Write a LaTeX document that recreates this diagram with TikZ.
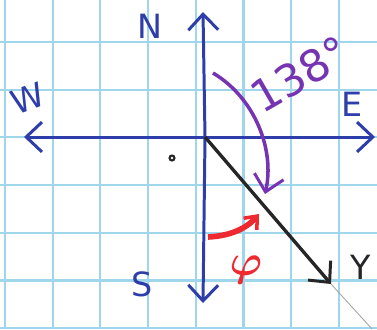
\documentclass[tikz,border=0pt]{standalone}
\usepackage{amsmath}
\usepackage{bm}
\usepackage{fontspec}
\setmainfont{DejaVu Sans}
\usetikzlibrary{
    arrows.meta,
    positioning
}
\definecolor{GridBlue}{RGB}{160,214,236}
\definecolor{AxisBlue}{RGB}{45,62,170}
\definecolor{ArcPurple}{RGB}{118,52,178}
\definecolor{PenRed}{RGB}{238,42,48}
\definecolor{PenBlack}{RGB}{38,38,40}
\newcommand{\handsize}{\fontsize{19}{22}\selectfont}

\begin{document}
\begin{tikzpicture}[
    x=0.02cm,
    y=-0.02cm,
    >={Straight Barb[length=9pt,width=17pt,line width=1.7pt]},
    gridline/.style={GridBlue, line width=1.2pt},
    axis/.style={->, AxisBlue, line width=1.7pt},
    compass/.style={AxisBlue, font=\handsize}
]

\useasboundingbox (0,0) rectangle (377,329);
\fill[white] (0,0) rectangle (377,329);

% graph paper
\foreach \gx in {5,52.7,100.4,148.1,195.8,243.5,291.2,338.9}
    \draw[gridline] (\gx,0) -- (\gx,329);
\foreach \gy in {42,89.7,137.4,185.1,232.8,280.5,328.2}
    \draw[gridline] (0,\gy) -- (377,\gy);

\coordinate (O) at (205,137);
\coordinate (Ntip) at (203,12);
\coordinate (Stip) at (203,303);
\coordinate (Wtip) at (24,137);
\coordinate (Etip) at (375,137);
\coordinate (Ytip) at (331,284);
\coordinate (Yend) at (372,329);

\draw[axis] (O) -- (Ntip);
\draw[axis] (O) -- (Stip);
\draw[axis] (O) -- (Wtip);
\draw[axis] (O) -- (Etip);

\node[compass] (lblN) at (150,26) {N};
\node[compass] (lblS) at (142,284) {S};
\node[compass, rotate=20] (lblW) at (28,98) {W};
\node[compass] (lblE) at (352,104) {E};

% bearing line
\draw[->, PenBlack, line width=1.9pt] (O) -- (Ytip);
\draw[gray!70, line width=0.5pt] (Ytip) -- (Yend);
\node[PenBlack, font=\handsize] (lblY) at (361,267) {Y};

\fill[PenBlack] (172,158) circle (3.6);
\fill[white] (172,158) circle (1.4);

% 138 degree turn
\draw[->, ArcPurple, line width=2pt]
    (213,73) .. controls (255,98) and (275,150) .. (265,194);
\node[ArcPurple, font=\fontsize{25}{27}\selectfont, rotate=30, inner sep=0pt] (lbl138) at (300,74) {138°};

% angle phi
\draw[->, PenRed, line width=3.2pt,
    >={Straight Barb[length=6pt,width=10pt,line width=2pt]}]
    (208,237) .. controls (228,236) and (245,230) .. (259,214);
\node[PenRed, font=\fontsize{30}{32}\selectfont] (lblphi) at (246,270) {$\bm{\varphi}$};

\end{tikzpicture}
\end{document}
